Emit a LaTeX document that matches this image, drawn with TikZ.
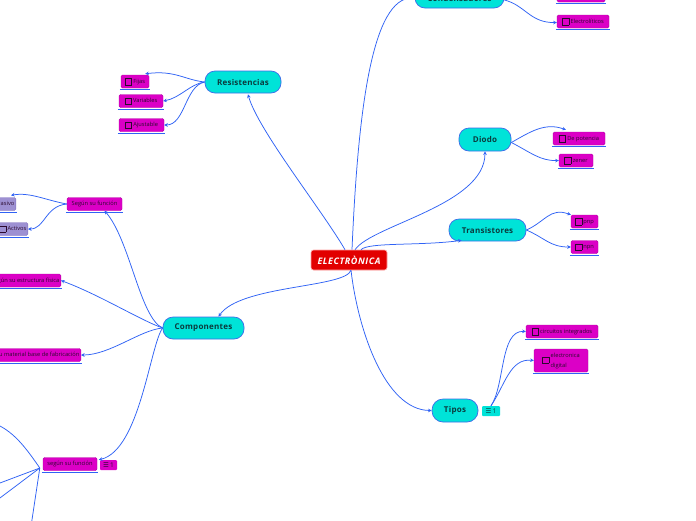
\documentclass[tikz,border=0pt]{standalone}
\usepackage{fontspec}
\setmainfont{Open Sans}
\newfontfamily\dejavu{DejaVu Sans}
\usetikzlibrary{arrows.meta,calc}
\definecolor{lineb}{HTML}{2F62F5}
\definecolor{cyanf}{HTML}{00E3D8}
\definecolor{pillb}{HTML}{3D6BEA}
\definecolor{pillt}{HTML}{0B3B3D}
\definecolor{magf}{HTML}{DB00C6}
\definecolor{magb}{HTML}{B400A6}
\definecolor{lavf}{HTML}{9D90D2}
\definecolor{lavb}{HTML}{8070C0}
\definecolor{mtext}{HTML}{2B0A2E}
\definecolor{redf}{HTML}{E20000}
\newcommand{\cbx}{\raisebox{-1.2pt}{\setlength{\fboxsep}{0pt}\setlength{\fboxrule}{0.45pt}\fbox{\rule{0pt}{6pt}\hspace{6pt}}}\hspace{1.5pt}}
\newcommand{\ulbox}[1]{\draw[uline] ([xshift=-1pt,yshift=-1.6pt]#1.south west) -- ([xshift=1pt,yshift=-1.6pt]#1.south east);}
\begin{document}
\begin{tikzpicture}[x=1pt,y=-1pt,
  pill/.style={draw=pillb, fill=cyanf, line width=0.7pt, rounded corners=10pt, text=pillt,
    font=\fontsize{8}{9}\selectfont\bfseries\addfontfeature{LetterSpace=3}, inner sep=0pt, minimum height=22pt},
  mbox/.style={draw=magb, fill=magf, line width=0.4pt, rounded corners=1.5pt, text=mtext,
    font=\fontsize{5.7}{6.5}\selectfont, inner xsep=1.5pt, inner ysep=1pt, minimum height=13pt},
  lav/.style={mbox, draw=lavb, fill=lavf},
  badge/.style={rounded corners=1pt, inner sep=0.5pt, minimum height=10pt, font=\fontsize{6.5}{7}\selectfont},
  conn/.style={draw=lineb, line width=0.75pt, -{Stealth[length=3.6pt,width=3.6pt]}},
  plain/.style={draw=lineb, line width=0.75pt},
  uline/.style={draw=lineb, line width=1.3pt},
  rootbox/.style={fill=redf, draw=red!35, line width=0.6pt, rounded corners=2.5pt, text=white,
    font=\fontsize{9}{10}\selectfont\bfseries\itshape\addfontfeature{LetterSpace=6}, minimum width=76pt, minimum height=20pt, inner sep=0pt}]
\useasboundingbox (0,0) rectangle (696,520);
\fill[white] (0,0) rectangle (696,520);
\clip (0,0) rectangle (696,520);

% main nodes
\node[rootbox] (elec) at (349,260) {ELECTRÒNICA};
\node[pill, minimum width=76pt] (res) at (243,82) {Resistencias};
\node[pill, minimum width=89pt, minimum height=20pt] (cond) at (459.5,-2) {Condensadores};
\node[pill, minimum width=52pt, minimum height=23pt] (diodo) at (485,139.5) {Diodo};
\node[pill, minimum width=77pt] (trans) at (487.5,230) {Transistores};
\node[pill, minimum width=46pt, minimum height=23pt, rounded corners=11pt] (tipos) at (455,410.5) {Tipos};
\node[pill, minimum width=81pt] (comp) at (203.5,328) {Componentes};

% leaves
\node[mbox, minimum width=28pt] (fijas) at (135,81.5) {\cbx Fijas};
\node[mbox, minimum width=44pt] (var) at (141,101) {\cbx Variables};
\node[mbox, minimum width=45pt] (ajus) at (141.5,125) {\cbx Ajustable};
\node[mbox, minimum width=48pt] (ctop) at (581,-4.5) {};
\node[mbox, minimum width=52pt] (electrol) at (583,21.5) {\cbx Electrolíticos};
\node[mbox, minimum width=52pt] (depot) at (579,138.5) {\cbx De potencia};
\node[mbox, minimum width=34pt] (zener) at (576,160.5) {\cbx zener};
\node[mbox, minimum width=27pt] (pnp) at (584.5,221.5) {\cbx pnp};
\node[mbox, minimum width=27pt] (npn) at (584.5,247) {\cbx npn};
\node[mbox, minimum width=72pt] (circ) at (562,331.5) {\cbx circuitos integrados};
\node[mbox, minimum width=54pt, minimum height=23pt, font=\fontsize{5.7}{9.5}\selectfont] (edig) at (561,360.5)
  {\cbx\begin{tabular}{@{}l@{}}electronica\\digital\end{tabular}};
\node[mbox, minimum width=55pt] (sf1) at (94.5,204) {Según su función};
\node[lav, anchor=east] (pasivo) at (16,204) {\cbx Pasivo};
\node[lav, anchor=east] (activos) at (28,229) {\cbx Activos};
\node[mbox, anchor=east] (estruct) at (61,280.5) {Según su estructura física};
\node[mbox, anchor=east] (material) at (81,355) {Según su material base de fabricación};
\node[mbox, minimum width=54pt] (sf2) at (70,464) {según su función};

\node[badge, fill=cyanf, text=pillt, minimum width=18pt] (bdg2) at (491,411) {{\dejavu ☰}\,1};
\node[badge, fill=magf, text=mtext, minimum width=17pt] (bdg1) at (108.5,465) {{\dejavu ☰}\,1};

\foreach \n in {fijas,var,ajus,ctop,electrol,depot,zener,pnp,npn,circ,edig,sf1,pasivo,activos,estruct,material,sf2}{\ulbox{\n}}

% connectors from root
\draw[conn] ($(elec.north)+(-4,0)$) .. controls (322,210) and (258,130) .. ($(res.south)+(5,1)$);
\draw[conn] ($(elec.north)+(3,0)$) .. controls (358,110) and (372,-3) .. (cond.west);
\draw[conn] ($(elec.north)+(6,0)$) .. controls (372,225) and (485,205) .. (diodo.south);
\draw[conn] ($(elec.north)+(12,0)$) .. controls (368,242) and (420,246) .. ($(trans.south west)+(13,-1)$);
\draw[conn] ($(elec.south)+(2,0)$) .. controls (358,330) and (385,410) .. (tipos.west);
\draw[conn] ($(elec.south)+(2,0)$) .. controls (345,288) and (240,285) .. ($(comp.north)+(15,0)$);

% resistencias
\draw[conn] (res.west) .. controls (185,80) and (175,70) .. ($(fijas.north east)+(-4,-1)$);
\draw[conn] (res.west) .. controls (190,84) and (180,98) .. (var.east);
\draw[conn] (res.west) .. controls (185,86) and (185,125) .. (ajus.east);

% condensadores
\draw[conn] (cond.east) .. controls (520,0) and (535,-5) .. (ctop.west);
\draw[conn] ($(cond.east)+(0,2)$) .. controls (525,5) and (530,23) .. ($(electrol.west)+(0,1)$);

% diodo
\draw[conn] ($(diodo.east)+(0,3)$) .. controls (530,132) and (545,122) .. ($(depot.north west)+(13,-2)$);
\draw[conn] ($(diodo.east)+(0,3)$) .. controls (530,152) and (540,161) .. (zener.west);

% transistores
\draw[conn] (trans.east) .. controls (545,222) and (550,207) .. (pnp.north west);
\draw[conn] (trans.east) .. controls (545,238) and (550,247) .. (npn.west);

% tipos
\draw[conn] (bdg2.north) .. controls (505,385) and (500,330) .. (circ.west);
\draw[conn] (bdg2.north) .. controls (505,385) and (510,358) .. (edig.west);

% componentes
\draw[conn] (comp.west) .. controls (140,318) and (130,240) .. ($(sf1.south)+(10,0)$);
\draw[conn] (comp.west) .. controls (140,320) and (100,295) .. (estruct.east);
\draw[conn] (comp.west) .. controls (140,330) and (110,355) .. (material.east);
\draw[conn] (comp.west) .. controls (150,345) and (140,450) .. ($(bdg1.north west)+(-1,0)$);

% segun su funcion (top)
\draw[conn] (sf1.west) .. controls (45,200) and (30,192) .. ($(pasivo.north east)+(-5,-2)$);
\draw[conn] (sf1.west) .. controls (45,206) and (45,229) .. (activos.east);

% segun su funcion (bottom), children off the page
\coordinate (o1) at (-12,421);
\coordinate (o2) at (-20,490.5);
\coordinate (o3) at (-20,513);
\coordinate (o4) at (30,533);
\draw[plain] ($(sf2.west)+(-3,4)$) .. controls (22,442) and (10,428) .. (o1);
\draw[plain] ($(sf2.west)+(-3,4)$) -- (o2);
\draw[plain] ($(sf2.west)+(-3,4)$) -- (o3);
\draw[plain] ($(sf2.west)+(-3,4)$) -- (o4);
\end{tikzpicture}
\end{document}
